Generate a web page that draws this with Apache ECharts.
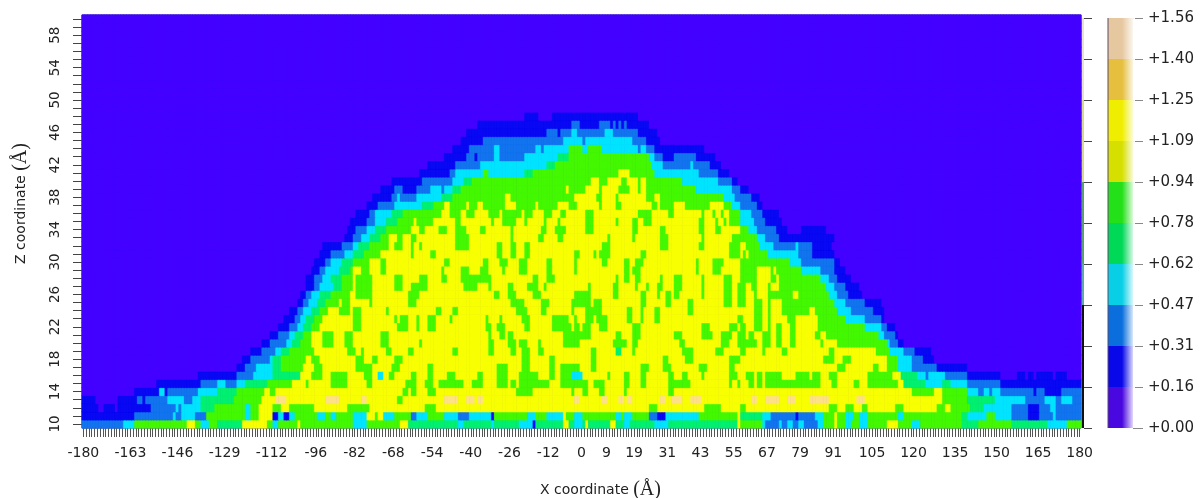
<!DOCTYPE html>
<html><head><meta charset="utf-8">
<style>html,body{margin:0;padding:0;background:#fff}#c{width:1200px;height:498px}</style>
<script src="https://cdn.jsdelivr.net/npm/echarts@6/dist/echarts.min.js"></script>
</head><body><div id="c"></div>
<script>
// Tick labels
const xTickLabels = [-180,-163,-146,-129,-112,-96,-82,-68,-54,-40,-26,-12,0,9,19,31,43,55,67,79,91,105,120,135,150,165,180];
const zMin = 10, zMax = 60, xMin = -180, xMax = 180;
// colour scale bands (0..1.56 in 10 equal bands)
const bandSize = [0.156,0.156,0.156,0.156,0.156,0.156,0.156,0.156,0.156,0.156];
const cellColors = ['#4400ff','#0808f4','#1274ee','#00e4ff','#00f070','#44f800','#d8ff00','#f8ff00','#ffe286','#f2d2b0'];
const barColors  = ['#4a08e0','#0808e8','#0a6fdc','#08cfe6','#00d858','#24e018','#d6e000','#f0ee00','#e6bf3e','#e6c8a0'];
const railColors = ['#111111','#111111','#111111','#60a8b0','#5aa070','#5aa070','#d8d890','#d8d890','#e8e0d0','#e8e0d0'];
// Each row: start x, level, start x, level ... (level = colour band index)
const zEmpty=[-180,0];
const z48=[-180,0,-20,1,-15,0,-10,1,21,0];
const z47=[-180,0,-37,1,-3,2,0,1,7,2,11,1,12,2,13,1,14,2,15,1,16,2,17,1,25,0];
const z46=[-180,0,-41,1,-12,2,-8,1,-7,2,-3,3,-1,2,9,3,12,2,21,1,28,0];
const z45=[-180,0,-43,1,-35,2,-6,3,1,2,2,3,19,2,24,1,29,0];
const z44=[-180,0,-46,1,-40,2,-31,3,-29,2,-16,3,-14,2,-13,3,-4,5,1,3,3,5,8,3,21,2,22,3,24,2,27,1,45,0];
const z43=[-180,0,-49,1,-41,2,-38,1,-37,2,-31,3,-29,2,-20,3,-8,4,-4,5,25,3,27,2,30,1,34,2,42,1,49,0];
const z42=[-180,0,-55,1,-45,2,-36,3,-12,4,-9,5,26,3,30,2,40,3,41,2,47,1,51,0];
const z41=[-180,0,-58,1,-47,2,-45,3,-35,5,-33,3,-20,4,-17,5,14,7,18,5,27,3,43,2,50,1,54,0];
const z40=[-180,0,-68,1,-57,2,-46,3,-42,4,-39,5,4,7,7,5,10,7,15,5,17,7,21,5,22,7,24,5,37,3,50,2,55,1,57,0];
const z39=[-180,0,-72,1,-67,2,-64,1,-59,2,-54,3,-50,2,-49,3,-46,4,-43,5,-5,7,-4,5,2,7,7,5,8,7,14,5,18,7,21,5,22,7,24,5,42,3,55,2,58,1,61,0];
const z38=[-180,0,-75,1,-68,2,-66,3,-65,2,-59,3,-50,4,-46,5,-27,7,-25,5,-2,7,6,5,8,7,13,5,14,7,24,5,27,7,29,5,52,3,56,2,62,1,65,0];
const z37=[-180,0,-77,1,-73,2,-67,3,-57,4,-53,5,-49,7,-47,5,-41,7,-40,5,-37,7,-35,5,-27,7,-23,5,-16,7,-15,5,-8,7,-4,5,-1,7,7,5,8,7,13,5,15,7,26,5,28,7,29,5,34,7,38,5,47,7,52,5,55,3,58,2,64,1,66,0];
const z36=[-180,0,-81,1,-76,2,-74,3,-68,4,-64,5,-50,7,-47,5,-43,7,-41,5,-38,7,-33,5,-29,7,-28,5,-21,7,-20,5,-17,7,-13,5,-10,7,-7,5,-5,7,2,5,5,7,21,5,26,7,32,5,34,7,44,5,45,7,48,5,49,7,51,5,52,7,54,5,58,3,62,2,66,1,72,0];
const z35=[-180,0,-83,1,-77,2,-74,3,-70,4,-66,5,-60,7,-59,5,-53,7,-45,5,-43,7,-32,5,-31,7,-28,5,-23,7,-20,5,-19,7,-13,5,-12,7,-8,5,-7,7,2,5,5,7,13,5,14,7,19,5,21,7,23,5,26,7,43,5,45,7,49,5,50,7,52,5,53,7,54,5,58,3,63,2,67,1,73,0];
const z34=[-180,0,-84,1,-81,2,-77,3,-74,4,-70,5,-61,7,-58,5,-56,7,-51,5,-48,7,-45,5,-41,7,-36,5,-34,7,-25,5,-24,7,-14,5,-12,7,-9,5,-5,7,2,5,5,7,19,5,21,7,29,5,31,7,43,5,45,7,49,5,51,7,58,5,61,3,64,2,71,1,75,0,80,1,89,0];
const z33=[-180,0,-85,1,-82,2,-79,3,-76,4,-72,5,-69,7,-66,5,-64,7,-61,5,-59,7,-45,5,-40,7,-25,5,-24,7,-15,5,-13,7,-8,5,-6,7,10,5,11,7,19,5,20,7,29,5,32,7,44,5,45,7,55,5,64,3,67,2,72,1,92,0];
const z32=[-180,0,-93,1,-86,2,-82,3,-80,4,-76,5,-69,7,-67,5,-64,7,-61,5,-60,7,-58,5,-57,7,-45,5,-40,7,-30,5,-28,7,-25,5,-23,7,-20,5,-18,7,8,5,11,7,29,5,32,7,43,5,45,7,54,5,58,7,60,5,65,3,70,2,78,3,79,2,84,1,91,0];
const z31=[-180,0,-94,1,-90,2,-85,3,-82,4,-78,5,-72,7,-61,5,-60,7,-54,5,-52,7,-30,5,-28,7,-25,5,-23,7,-20,5,-18,7,-2,5,0,7,5,5,6,7,7,5,11,7,22,5,24,7,54,5,58,7,59,5,60,7,61,5,68,3,79,2,84,1,92,0];
const z30=[-180,0,-96,1,-92,2,-90,3,-86,4,-82,5,-76,7,-72,5,-70,7,-49,5,-47,7,-35,5,-33,7,-29,5,-26,7,-22,5,-19,7,-12,5,-10,7,-2,5,-1,7,8,5,10,7,16,5,18,7,20,5,23,7,42,5,43,7,48,5,52,7,58,5,76,3,80,2,92,1,94,0];
const z29=[-180,0,-97,1,-94,2,-92,3,-87,4,-83,5,-82,7,-79,5,-76,7,-72,5,-70,7,-50,5,-49,7,-43,5,-40,7,-36,5,-33,7,-28,5,-27,7,-22,5,-19,7,-12,5,-10,7,-2,5,-1,7,16,5,18,7,19,5,22,7,42,5,43,7,48,5,51,7,58,5,64,7,69,5,70,7,71,5,80,3,87,2,92,1,96,0];
const z28=[-180,0,-99,1,-96,2,-93,3,-90,4,-86,5,-82,7,-81,5,-75,7,-67,5,-64,7,-58,5,-55,7,-50,5,-48,7,-43,5,-32,7,-17,5,-15,7,-12,5,-9,7,13,5,14,7,16,5,18,7,20,5,22,7,29,5,30,7,34,5,37,7,44,5,45,7,52,5,55,7,58,5,64,7,69,5,71,7,72,5,87,3,90,2,93,1,98,0];
const z27=[-180,0,-99,1,-96,2,-94,3,-89,4,-86,5,-82,7,-81,5,-75,7,-67,5,-64,7,-61,5,-55,7,-42,5,-37,7,-33,5,-32,7,-26,5,-24,7,-19,5,-15,7,-13,5,-12,7,3,5,4,7,12,5,14,7,20,5,21,7,24,5,25,7,28,5,30,7,34,5,37,7,44,5,45,7,52,5,55,7,57,5,60,7,62,5,64,7,68,5,69,7,72,5,89,3,92,2,96,1,101,0];
const z26=[-180,0,-101,1,-99,2,-97,3,-94,4,-90,5,-83,7,-81,5,-75,7,-62,5,-58,7,-31,5,-29,7,-26,5,-23,7,-17,5,-14,7,-2,5,4,7,12,5,14,7,22,5,24,7,28,5,29,7,31,5,33,7,34,5,36,7,44,5,45,7,52,5,55,7,57,5,60,7,63,5,64,7,68,5,77,7,79,5,90,3,93,2,97,1,102,0];
const z25=[-180,0,-102,1,-100,2,-98,3,-95,4,-92,5,-87,7,-86,5,-83,7,-76,5,-75,7,-62,5,-59,7,-25,5,-20,7,-14,5,-11,7,-3,5,4,7,5,5,8,7,22,5,24,7,31,5,33,7,39,5,41,7,52,5,55,7,57,5,60,7,63,5,66,7,68,5,69,7,73,5,92,3,96,2,103,1,109,0];
const z24=[-180,0,-105,1,-102,2,-100,3,-97,4,-94,5,-91,7,-87,5,-83,7,-82,5,-79,7,-70,5,-69,7,-52,5,-50,7,-46,5,-44,7,-23,5,-19,7,-14,5,-12,7,-3,5,-2,7,2,5,8,7,17,5,19,7,22,5,23,7,27,5,29,7,39,5,41,7,63,5,66,7,68,5,69,7,73,5,83,7,85,5,93,3,98,2,106,1,110,0];
const z23=[-180,0,-107,1,-103,2,-101,3,-99,4,-96,5,-93,7,-82,5,-79,7,-67,5,-66,7,-65,5,-62,7,-59,5,-58,7,-55,5,-52,7,-47,5,-46,7,-34,5,-33,7,-29,5,-28,7,-21,5,-18,7,-10,5,-4,7,-2,5,-1,7,2,5,5,7,6,5,10,7,17,5,19,7,22,5,23,7,27,5,29,7,57,5,59,7,63,5,66,7,68,5,69,7,75,5,78,7,86,5,96,3,103,2,109,1,110,0];
const z22=[-180,0,-109,1,-105,2,-102,3,-100,4,-97,5,-94,7,-82,5,-79,7,-66,5,-62,7,-59,5,-58,7,-55,5,-52,7,-34,5,-32,7,-30,5,-27,7,-20,5,-18,7,-10,5,-3,7,-2,5,0,7,1,5,4,7,7,5,10,7,19,5,22,7,44,5,47,7,54,5,57,7,58,5,60,7,63,5,66,7,68,5,69,7,71,5,73,7,76,5,78,7,86,5,103,3,109,2,111,1,114,0];
const z21=[-180,0,-112,1,-109,2,-105,3,-103,4,-100,5,-97,7,-93,5,-89,7,-85,5,-82,7,-72,5,-69,7,-33,5,-32,7,-29,5,-27,7,-26,5,-24,7,-6,5,4,7,13,5,15,7,19,5,22,7,34,5,37,7,44,5,48,7,51,5,55,7,57,5,60,7,61,5,63,7,66,5,69,7,71,5,73,7,76,5,78,7,85,5,87,7,89,5,108,3,110,2,114,1,115,0];
const z20=[-180,0,-115,1,-112,2,-106,3,-104,4,-101,5,-97,7,-93,5,-89,7,-85,5,-82,7,-72,5,-69,7,-58,5,-57,7,-33,5,-31,7,-26,5,-23,7,-22,5,-19,7,-15,5,-14,7,-6,5,0,7,12,5,17,7,19,5,21,7,36,5,38,7,51,5,54,7,57,5,64,7,66,5,69,7,71,5,73,7,76,5,78,7,87,5,88,7,93,5,111,3,112,2,115,1,117,0];
const z19=[-180,0,-119,1,-115,2,-110,3,-108,4,-105,5,-96,7,-84,5,-81,7,-79,5,-78,7,-70,5,-68,7,-62,5,-60,7,-46,5,-44,7,-33,5,-31,7,-25,5,-23,7,-21,5,-18,7,-15,5,-13,7,4,5,6,7,13,4,15,7,19,5,20,7,37,5,41,7,49,5,52,7,58,5,60,7,66,5,67,7,73,5,75,7,90,5,92,7,107,5,112,3,117,2,121,1,127,0];
const z18=[-180,0,-122,1,-119,2,-112,3,-111,4,-108,5,-99,7,-97,5,-94,7,-81,5,-78,7,-75,5,-73,7,-67,5,-64,7,-21,5,-18,7,-11,5,-9,7,4,5,6,7,30,5,32,7,38,5,41,7,54,5,58,7,88,5,92,7,95,5,98,7,111,5,115,3,120,2,124,1,128,0];
const z17=[-180,0,-124,1,-121,2,-117,3,-111,4,-108,5,-100,7,-96,5,-93,7,-81,5,-75,7,-68,5,-65,7,-55,5,-53,7,-30,5,-26,7,-21,5,-18,7,-11,5,-9,7,-7,5,0,7,4,5,6,7,22,5,25,7,30,5,33,7,43,5,46,7,54,5,56,7,93,5,96,7,106,5,108,7,111,5,115,3,120,2,129,1,140,0];
const z16=[-180,0,-138,1,-124,2,-118,3,-111,4,-101,7,-97,5,-93,7,-90,5,-84,7,-78,5,-75,7,-73,3,-71,7,-69,5,-67,7,-61,5,-59,7,-55,5,-53,7,-48,5,-45,7,-37,5,-35,7,-30,5,-26,7,-22,5,-15,7,-11,5,-9,7,-7,5,-3,3,1,7,10,5,11,7,16,5,18,7,22,5,24,7,32,5,34,7,37,5,39,7,44,5,45,7,54,5,57,7,60,5,63,7,64,5,66,7,67,5,73,7,78,5,83,7,84,5,87,7,90,5,93,7,104,5,113,7,116,4,122,3,125,2,126,3,132,2,140,1,152,0,158,1,161,0,162,1,164,0,165,1,171,0,172,1,176,0];
const z15=[-180,0,-153,1,-137,2,-131,3,-128,2,-124,3,-121,4,-113,5,-104,7,-99,5,-98,7,-90,5,-84,7,-77,5,-75,7,-63,5,-59,7,-56,5,-53,7,-51,5,-42,7,-39,5,-35,7,-30,5,-26,7,-25,5,-23,7,-22,5,-11,7,-7,5,3,7,5,5,9,7,16,5,18,7,22,5,24,7,32,5,40,7,54,5,55,7,57,5,58,7,61,5,63,7,64,5,66,7,67,5,87,7,91,5,93,7,99,5,101,7,104,5,115,7,117,4,125,3,131,4,134,3,140,2,152,1];
const z14=[-180,0,-161,1,-152,3,-150,1,-149,2,-138,3,-131,4,-124,5,-114,7,-112,5,-110,7,-64,5,-62,7,-61,5,-59,7,-55,5,-52,7,-23,5,-17,7,-3,5,-2,7,1,5,3,7,7,5,9,7,16,5,17,7,32,5,34,7,120,5,128,7,131,5,140,3,144,2,146,3,148,2,149,3,152,2,164,1,165,2,168,1,174,2];
const z13=[-180,1,-175,0,-167,1,-160,2,-158,1,-157,2,-149,3,-143,2,-140,3,-137,4,-125,5,-115,7,-110,8,-106,7,-92,8,-87,7,-79,8,-77,7,-66,5,-64,7,-49,8,-44,7,-41,8,-38,7,-37,8,-35,7,-2,8,0,7,8,8,10,7,14,8,16,7,17,8,19,7,29,8,31,7,33,8,37,7,40,8,44,7,62,8,64,7,67,8,72,7,75,8,78,7,83,8,90,7,100,8,103,7,131,5,140,4,150,3,161,2,168,3,172,2,174,3,178,2];
const z12=[-180,1,-174,0,-172,1,-168,0,-167,1,-155,2,-146,3,-145,2,-144,3,-137,4,-132,5,-121,3,-119,5,-116,7,-111,5,-108,7,-105,5,-96,7,-84,5,-76,7,-56,5,-52,7,25,5,28,7,45,5,51,7,58,5,60,7,90,5,93,7,96,5,99,7,102,5,104,7,114,5,117,7,129,5,132,7,134,5,141,4,146,3,156,2,162,1,166,2,170,3,172,2];
const z11=[-180,1,-161,2,-147,3,-146,2,-144,3,-139,2,-135,5,-121,3,-119,5,-116,7,-111,1,-109,3,-107,1,-105,3,-103,5,-95,3,-92,5,-90,3,-88,5,-82,3,-77,7,-74,5,-73,7,-71,3,-67,5,-61,2,-59,3,-55,5,-49,3,-44,2,-40,3,-32,1,-31,5,-19,3,-16,5,-12,3,-6,7,-5,5,-2,3,1,5,13,3,15,5,16,3,19,5,25,2,28,1,31,3,43,5,57,7,58,4,66,3,69,2,78,1,79,2,85,3,88,5,92,7,93,5,96,3,99,5,101,3,104,5,115,3,117,5,138,4,140,3,147,5,150,3,156,2,162,1,166,2,171,3,172,2];
const z10=[-180,2,-165,3,-161,5,-142,7,-139,5,-137,3,-134,5,-131,4,-122,7,-113,5,-111,3,-109,5,-102,7,-101,5,-82,3,-77,5,-65,7,-62,4,-44,3,-42,4,-32,3,-31,4,-22,3,-17,1,-16,4,-6,7,-4,4,-2,3,1,4,2,7,3,4,11,7,13,4,16,3,18,4,27,3,32,4,57,7,58,5,66,3,67,2,72,3,73,2,75,3,77,2,79,3,81,2,86,3,88,5,92,7,93,5,96,3,98,5,101,3,104,5,111,7,115,5,120,3,123,5,138,4,144,5,156,4,169,3,176,5];
const rows=[z10,z11,z12,z13,z14,z15,z16,z17,z18,z19,z20,z21,z22,z23,z24,z25,z26,z27,z28,z29,z30,z31,z32,z33,z34,z35,z36,z37,z38,z39,z40,z41,z42,z43,z44,z45,z46,z47,z48,
 zEmpty,zEmpty,zEmpty,zEmpty,zEmpty,zEmpty,zEmpty,zEmpty,zEmpty,zEmpty,zEmpty,zEmpty,zEmpty];

const xCats=[]; for(let x=xMin;x<=xMax;x++) xCats.push(String(x));
const zCats=[]; for(let z=zMin;z<=zMax;z++) zCats.push(String(z));
const cellStyles=cellColors.map(c=>({color:c,borderColor:c,borderWidth:0.35}));
const cells=[];
rows.slice(0,zCats.length).forEach((r,j)=>{
  for(let k=0;k<r.length;k+=2){
    const end = k+2<r.length ? r[k+2]-1 : xMax;
    const lev = r[k+1];
    for(let x=r[k];x<=end;x++) cells.push({value:[x-xMin,j,lev+0.5],itemStyle:cellStyles[lev]});
  }
});
const labelSet=new Set(xTickLabels.map(String));
const FONT='DejaVu Sans';

const stack=(name,colors,axis)=>bandSize.map((v,i)=>({
  type:'bar',stack:name,xAxisIndex:axis,yAxisIndex:axis,data:[v],barWidth:'100%',silent:true,
  itemStyle:{color:colors[i]},animation:false
}));

const chart=echarts.init(document.getElementById('c'),null,{renderer:'canvas'});
chart.setOption({
  animation:false,
  grid:[
    {left:82,top:15,width:999,height:413,outerBoundsMode:'none',show:true,borderColor:'#0a0a8c',borderWidth:1,backgroundColor:'#4400ff'},
    {left:1108,top:18,width:25,height:410,outerBoundsMode:'none'},
    {left:1082,top:18,width:2,height:410,outerBoundsMode:'none'}
  ],
  xAxis:[
    {type:'category',gridIndex:0,data:xCats,
     name:'{a|X coordinate }{b|(Å)}',nameLocation:'middle',nameGap:52,
     nameTextStyle:{padding:[0,0,0,38],rich:{a:{fontFamily:FONT,fontSize:14,color:'#222'},b:{fontFamily:'Liberation Serif',fontSize:20,color:'#222'}}},
     axisLine:{show:false},
     axisTick:{show:true,interval:0,alignWithLabel:true,length:9,lineStyle:{color:'#555',width:1}},
     axisLabel:{interval:(i,v)=>labelSet.has(String(v)),margin:18,fontFamily:FONT,fontSize:14,color:'#222',hideOverlap:false},
     splitLine:{show:false},splitArea:{show:false}},
    {type:'category',gridIndex:1,data:['c'],show:false},
    {type:'category',gridIndex:2,data:['c'],show:false}
  ],
  yAxis:[
    {type:'category',gridIndex:0,data:zCats,
     name:'{a|Z coordinate }{b|(Å)}',nameLocation:'middle',nameGap:51,
     nameTextStyle:{padding:[0,0,0,36],rich:{a:{fontFamily:FONT,fontSize:14,color:'#222'},b:{fontFamily:'Liberation Serif',fontSize:20,color:'#222'}}},
     axisLine:{show:false},
     axisTick:{show:true,interval:0,alignWithLabel:true,length:9,lineStyle:{color:'#444',width:1}},
     axisLabel:{interval:3,rotate:90,margin:20,fontFamily:FONT,fontSize:13.5,color:'#222'},
     splitLine:{show:false},splitArea:{show:false}},
    {type:'value',gridIndex:1,position:'right',min:0,max:1.56,interval:0.156,
     axisLine:{show:false},splitLine:{show:false},
     axisTick:{show:true,length:10,lineStyle:{color:'#888'}},
     axisLabel:{show:true,margin:15,fontFamily:FONT,fontSize:15,color:'#222',
       formatter:v=>'+'+Number(v).toFixed(2)}},
    {type:'value',gridIndex:2,position:'right',min:0,max:1.56,interval:0.156,
     axisLine:{show:false},splitLine:{show:false},
     axisTick:{show:true,length:8,lineStyle:{color:'#444'}},
     axisLabel:{show:false}}
  ],
  series:[
    {type:'heatmap',xAxisIndex:0,yAxisIndex:0,data:cells,progressive:0,silent:true,animation:false,emphasis:{disabled:true}},
    ...stack('bar',barColors,1),
    ...stack('rail',railColors,2)
  ],
  graphic:[
    {type:'rect',silent:true,z:100,shape:{x:1122,y:18,width:13,height:410},
     style:{fill:{type:'linear',x:0,y:0,x2:1,y2:0,colorStops:[{offset:0,color:'rgba(255,255,255,0)'},{offset:1,color:'rgba(255,255,255,1)'}]}}},
    {type:'line',silent:true,z:100,shape:{x1:1108,y1:18,x2:1108,y2:428},style:{stroke:'#5a4a6a',lineWidth:1}}
  ]
});
</script></body></html>
